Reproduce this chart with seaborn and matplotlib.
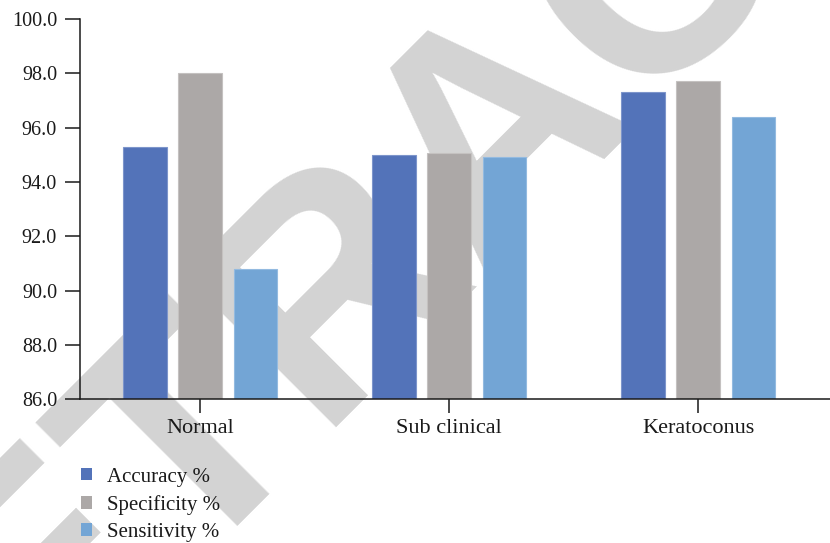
import matplotlib
matplotlib.use("Agg")
import matplotlib.pyplot as plt
import seaborn as sns
import pandas as pd

# Classification results per corneal group
categories = ["Normal", "Sub clinical", "Keratoconus"]
accuracy = [95.3, 95.0, 97.3]
specificity = [98.0, 95.05, 97.7]
sensitivity = [90.8, 94.9, 96.4]
metrics = ["Accuracy %", "Specificity %", "Sensitivity %"]
y_ticks = [86.0, 88.0, 90.0, 92.0, 94.0, 96.0, 98.0, 100.0]

colors = ["#5373B9", "#ACA8A7", "#73A5D5"]
edges = ["#7D95CB", "#C4C1C0", "#93BAE0"]

df = pd.DataFrame({
    "group": categories * 3,
    "metric": [metrics[0]] * 3 + [metrics[1]] * 3 + [metrics[2]] * 3,
    "value": accuracy + specificity + sensitivity,
})

sns.set_theme(style="white")
plt.rcParams["font.family"] = ["Liberation Serif", "DejaVu Serif"]

fig = plt.figure(figsize=(8.3, 5.43), dpi=100)
ax = fig.add_axes([0.0964, 0.265, 0.9036, 0.700])
ax.patch.set_alpha(0)

sns.barplot(data=df, x="group", y="value", hue="metric", hue_order=metrics,
            palette=colors, width=0.663, gap=0.217, saturation=1,
            ax=ax, legend=False)

for container, ec in zip(ax.containers, edges):
    for bar in container:
        bar.set_edgecolor(ec)
        bar.set_linewidth(0.8)

ax.set_ylim(86, 100)
ax.set_xlim(-0.482, 2.53)
ax.set_yticks(y_ticks)
ax.set_yticklabels([f"{t:.1f}" for t in y_ticks], fontsize=14.5)
ax.set_xticks(range(len(categories)))
ax.set_xticklabels(categories, fontsize=16)
ax.set_xlabel("")
ax.set_ylabel("")

for side in ["top", "right"]:
    ax.spines[side].set_visible(False)
for side in ["left", "bottom"]:
    ax.spines[side].set_color("#1a1a1a")
    ax.spines[side].set_linewidth(1.1)

ax.tick_params(axis="y", direction="out", length=11, width=1.1, color="#1a1a1a",
               pad=5.5, left=True, labelcolor="#1a1a1a")
ax.tick_params(axis="x", direction="out", length=10, width=1.1, color="#1a1a1a",
               pad=4.5, bottom=True, labelcolor="#1a1a1a")

# Legend in the lower-left corner
handles = [plt.Rectangle((0, 0), 1, 1, facecolor=c, edgecolor="none") for c in colors]
fig.legend(handles, metrics, loc="upper left", bbox_to_anchor=(0.0976, 0.139),
           frameon=False, fontsize=15, handlelength=0.55, handleheight=0.55,
           handletextpad=0.7, labelspacing=0.40, borderpad=0, borderaxespad=0,
           labelcolor="#1a1a1a")

# Diagonal watermark behind the plot
fig.text(556 / 830, 1 - 187 / 543, "RETRACTED", fontsize=226, color="#D3D3D3",
         fontfamily="Liberation Sans", fontweight="bold", rotation=45,
         rotation_mode="anchor", ha="center", va="baseline", zorder=-10)

fig.savefig("out.png", dpi=100)
